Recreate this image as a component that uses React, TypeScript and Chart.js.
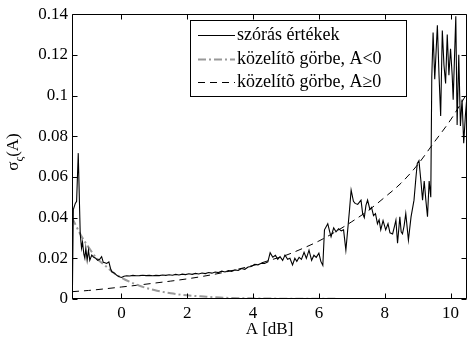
import React, { useEffect, useRef } from "react";
import { Chart, registerables } from "chart.js";
Chart.register(...registerables);

// ---- data ----
const sigmaA = [
  -1.49, -1.46, -1.4, -1.36, -1.31, -1.27, -1.25, -1.21, -1.18, -1.14, -1.11, -1.08, -1.04, -1.0, -0.96,
  -0.9, -0.84, -0.78, -0.72, -0.66, -0.6, -0.55, -0.5, -0.45, -0.38, -0.33, -0.29, -0.22, -0.15, -0.08,
  0.0, 0.08, 0.16, 0.25, 0.35, 0.45, 0.55, 0.65, 0.75, 0.85, 0.95, 1.05, 1.15, 1.25, 1.35, 1.45, 1.55,
  1.65, 1.75, 1.85, 1.95, 2.05, 2.15, 2.25, 2.35, 2.45, 2.55, 2.65, 2.75, 2.85, 2.95, 3.05, 3.15, 3.25,
  3.35, 3.45, 3.55, 3.65, 3.75, 3.85, 3.95, 4.05, 4.15, 4.25, 4.35, 4.45, 4.52, 4.6, 4.68, 4.75, 4.82,
  4.9, 4.97, 5.05, 5.12, 5.2, 5.27, 5.33, 5.4, 5.47, 5.55, 5.62, 5.7, 5.78, 5.85, 5.92, 6.0, 6.06, 6.12,
  6.17, 6.27, 6.33, 6.37, 6.45, 6.52, 6.6, 6.68, 6.75, 6.82, 6.93, 6.98, 7.05, 7.1, 7.18, 7.28, 7.33,
  7.38, 7.43, 7.48, 7.55, 7.6, 7.66, 7.72, 7.78, 7.83, 7.88, 7.95, 8.03, 8.1, 8.16, 8.24, 8.3, 8.34,
  8.39, 8.46, 8.5, 8.54, 8.59, 8.64, 8.72, 8.8, 8.89, 8.95, 8.99, 9.04, 9.1, 9.15, 9.2, 9.25, 9.3, 9.35,
  9.4, 9.43, 9.47, 9.52, 9.6, 9.65, 9.7, 9.75, 9.8, 9.85, 9.9, 9.95, 10.0, 10.05, 10.08, 10.16, 10.2,
  10.25, 10.3, 10.35, 10.4, 10.45, 10.5,
];
const sigmaV = [
  0.0, 0.044, 0.047, 0.048, 0.0717, 0.045, 0.032, 0.025, 0.028, 0.022, 0.02, 0.025, 0.019, 0.024, 0.019,
  0.0216, 0.0205, 0.02, 0.019, 0.0195, 0.0208, 0.018, 0.0178, 0.0175, 0.0182, 0.015, 0.0134, 0.0128, 0.0118, 0.011,
  0.0106, 0.0112, 0.0114, 0.0113, 0.0116, 0.0114, 0.0115, 0.0117, 0.0115, 0.0116, 0.0114, 0.0116, 0.0115, 0.0118, 0.0116, 0.0119, 0.0117,
  0.0121, 0.0118, 0.0122, 0.012, 0.0124, 0.0121, 0.0126, 0.0123, 0.0128, 0.0125, 0.013, 0.0127, 0.0133, 0.013, 0.0137, 0.0133, 0.014,
  0.0136, 0.0143, 0.014, 0.015, 0.0146, 0.0157, 0.016, 0.017, 0.0168, 0.0176, 0.0175, 0.0182, 0.0228, 0.0205, 0.0215, 0.0195, 0.0208,
  0.019, 0.0216, 0.0195, 0.02, 0.0167, 0.02, 0.0185, 0.0205, 0.0195, 0.023, 0.02, 0.024, 0.019, 0.0215, 0.0205, 0.0225, 0.0185, 0.0165,
  0.034, 0.037, 0.033, 0.0306, 0.035, 0.033, 0.0345, 0.0335, 0.034, 0.024, 0.0437, 0.0535, 0.048, 0.047, 0.0465, 0.0486, 0.042,
  0.04, 0.046, 0.0486, 0.044, 0.045, 0.041, 0.042, 0.037, 0.039, 0.034, 0.0385, 0.034, 0.037, 0.0325, 0.032, 0.036, 0.0388,
  0.0274, 0.0404, 0.033, 0.032, 0.036, 0.042, 0.029, 0.0404, 0.0486, 0.06, 0.0667, 0.068, 0.058, 0.0486, 0.058, 0.0486, 0.0404, 0.058,
  0.05, 0.109, 0.131, 0.108, 0.1346, 0.11, 0.09, 0.132, 0.115, 0.106, 0.13, 0.11, 0.123, 0.11, 0.098, 0.139, 0.0855,
  0.12, 0.085, 0.098, 0.0766, 0.09, 0.1,
];
const fitNegA = [-1.5, -1.25, -1.0, -0.75, -0.5, -0.25, 0, 0.5, 1.0, 1.5, 2.0, 2.5, 3.0, 4.0, 6.0, 8.0, 10.5];
const fitNegV = [0.04, 0.032, 0.0255, 0.02, 0.0165, 0.013, 0.0105, 0.0068, 0.0044, 0.0028, 0.0018, 0.0012, 0.0007, 0.0003, 0.0001, 0.0, 0.0];
const fitPosA = [-1.5, -1.0, -0.5, 0, 0.5, 1.0, 1.5, 2.0, 2.5, 3.0, 3.5, 4.0, 4.5, 5.0, 5.5, 6.0, 6.5, 7.0, 7.5, 8.0, 8.5, 9.0, 9.5, 10.0, 10.5];
const fitPosV = [0.0036, 0.0042, 0.005, 0.0059, 0.0068, 0.0078, 0.0088, 0.0099, 0.0112, 0.0127, 0.0145, 0.0165, 0.019, 0.0215, 0.0248, 0.0285, 0.033, 0.038, 0.0435, 0.05, 0.057, 0.066, 0.077, 0.088, 0.101];

const xTicks = [0, 2, 4, 6, 8, 10];
const xTickLabels = ["0", "2", "4", "6", "8", "10"];
const yTicks = [0, 0.02, 0.04, 0.06, 0.08, 0.1, 0.12, 0.14];
const yTickLabels = ["0", "0.02", "0.04", "0.06", "0.08", "0.1", "0.12", "0.14"];
const seriesLabels = ["szórás értékek", "közelítõ görbe, A<0", "közelítõ görbe, A≥0"];
const xTitle = "A [dB]";
const yTitleMain = "σ";
const yTitleSub = "ς";
const yTitleTail = "(A)";

const FONT = "'Liberation Serif', 'Times New Roman', serif";

const framePlugin = {
  id: "frameTicks",
  afterDatasetsDraw(chart: any) {
    const { ctx, chartArea, scales } = chart;
    const { left, right, top, bottom } = chartArea;
    ctx.save();
    ctx.strokeStyle = "#000";
    ctx.lineWidth = 1;
    ctx.setLineDash([]);
    const L = Math.round(left) + 0.5;
    const R = Math.round(right) - 0.5;
    const T = Math.round(top) + 0.5;
    const B = Math.round(bottom) - 0.5;
    ctx.beginPath();
    ctx.rect(L, T, R - L, B - T);
    ctx.stroke();
    const tl = 5;
    ctx.beginPath();
    xTicks.forEach((v) => {
      const px = Math.round(scales.x.getPixelForValue(v)) + 0.5;
      ctx.moveTo(px, B);
      ctx.lineTo(px, B - tl);
      ctx.moveTo(px, T);
      ctx.lineTo(px, T + tl);
    });
    yTicks.forEach((v) => {
      const py = Math.round(scales.y.getPixelForValue(v)) + 0.5;
      ctx.moveTo(L, py);
      ctx.lineTo(L + tl, py);
      ctx.moveTo(R, py);
      ctx.lineTo(R - tl, py);
    });
    ctx.stroke();

    // y title with subscript
    ctx.fillStyle = "#000";
    ctx.translate(18, 152);
    ctx.rotate(-Math.PI / 2);
    ctx.textBaseline = "alphabetic";
    ctx.font = `17px ${FONT}`;
    const w1 = ctx.measureText(yTitleMain).width;
    ctx.font = `12px ${FONT}`;
    const w2 = ctx.measureText(yTitleSub).width;
    ctx.font = `17px ${FONT}`;
    const w3 = ctx.measureText(yTitleTail).width;
    const total = w1 + w2 + w3;
    let x0 = -total / 2;
    ctx.textAlign = "left";
    ctx.font = `17px ${FONT}`;
    ctx.fillText(yTitleMain, x0, 0);
    x0 += w1;
    ctx.font = `12px ${FONT}`;
    ctx.fillText(yTitleSub, x0, 5);
    x0 += w2;
    ctx.font = `17px ${FONT}`;
    ctx.fillText(yTitleTail, x0, 0);
    ctx.restore();
  },
  afterDraw(chart: any) {
    const { ctx } = chart;
    ctx.save();
    const bx = 190.5, by = 20.5, bw = 216, bh = 76;
    ctx.fillStyle = "#fff";
    ctx.fillRect(bx, by, bw, bh);
    ctx.strokeStyle = "#000";
    ctx.lineWidth = 1;
    ctx.setLineDash([]);
    ctx.strokeRect(bx, by, bw, bh);
    const rows = [35, 59, 82];
    chart.data.datasets.forEach((ds: any, i: number) => {
      const y = rows[i];
      ctx.strokeStyle = ds.borderColor;
      ctx.lineWidth = ds.borderWidth;
      ctx.setLineDash(ds.borderDash || []);
      ctx.beginPath();
      ctx.moveTo(198, y + 0.5);
      ctx.lineTo(235, y + 0.5);
      ctx.stroke();
      ctx.setLineDash([]);
      ctx.fillStyle = "#000";
      ctx.font = `18px ${FONT}`;
      ctx.textBaseline = "middle";
      ctx.textAlign = "left";
      ctx.fillText(seriesLabels[i], 237, y);
    });
    ctx.restore();
  },
};

export default function App() {
  const ref = useRef<HTMLCanvasElement | null>(null);
  useEffect(() => {
    document.body.style.margin = "0";
    if (!ref.current) return;
    const mk = (xs: number[], ys: number[]) => xs.map((x, i) => ({ x, y: ys[i] }));
    const chart = new Chart(ref.current, {
      type: "line",
      data: {
        datasets: [
          {
            label: seriesLabels[0],
            data: mk(sigmaA, sigmaV),
            borderColor: "#000",
            borderWidth: 1.1,
            pointRadius: 0,
            tension: 0,
          },
          {
            label: seriesLabels[1],
            data: mk(fitNegA, fitNegV),
            borderColor: "#999999",
            borderWidth: 2,
            borderDash: [8, 3, 2, 3],
            pointRadius: 0,
            cubicInterpolationMode: "monotone",
          },
          {
            label: seriesLabels[2],
            data: mk(fitPosA, fitPosV),
            borderColor: "#000",
            borderWidth: 1,
            borderDash: [7, 5],
            pointRadius: 0,
            cubicInterpolationMode: "monotone",
          },
        ] as any,
      },
      options: {
        animation: false,
        responsive: false,
        devicePixelRatio: 1,
        parsing: false as any,
        layout: { padding: { top: 14, right: 1, left: 0, bottom: 0 } },
        plugins: { legend: { display: false }, tooltip: { enabled: false } },
        scales: {
          x: {
            type: "linear",
            min: -1.5,
            max: 10.5,
            grid: { display: false, drawTicks: false },
            border: { display: false },
            afterBuildTicks: (s: any) => {
              s.ticks = xTicks.map((v) => ({ value: v }));
            },
            afterFit: (s: any) => {
              s.height = 41;
            },
            ticks: {
              color: "#000",
              padding: 4,
              font: { family: FONT, size: 17 },
              maxRotation: 0,
              callback: (_v: any, i: number) => xTickLabels[i],
            },
            title: {
              display: true,
              text: xTitle,
              color: "#000",
              font: { family: FONT, size: 17 },
              padding: { top: 0, bottom: 0 },
            },
          },
          y: {
            type: "linear",
            min: 0,
            max: 0.14,
            grid: { display: false, drawTicks: false },
            border: { display: false },
            afterBuildTicks: (s: any) => {
              s.ticks = yTicks.map((v) => ({ value: v }));
            },
            afterFit: (s: any) => {
              s.width = 72;
            },
            ticks: {
              color: "#000",
              padding: 4,
              font: { family: FONT, size: 17 },
              callback: (_v: any, i: number) => yTickLabels[i],
            },
          },
        },
      },
      plugins: [framePlugin],
    });
    return () => chart.destroy();
  }, []);
  return (
    <div style={{ width: 468, height: 340, background: "#fff" }}>
      <canvas ref={ref} width={468} height={340} />
    </div>
  );
}
